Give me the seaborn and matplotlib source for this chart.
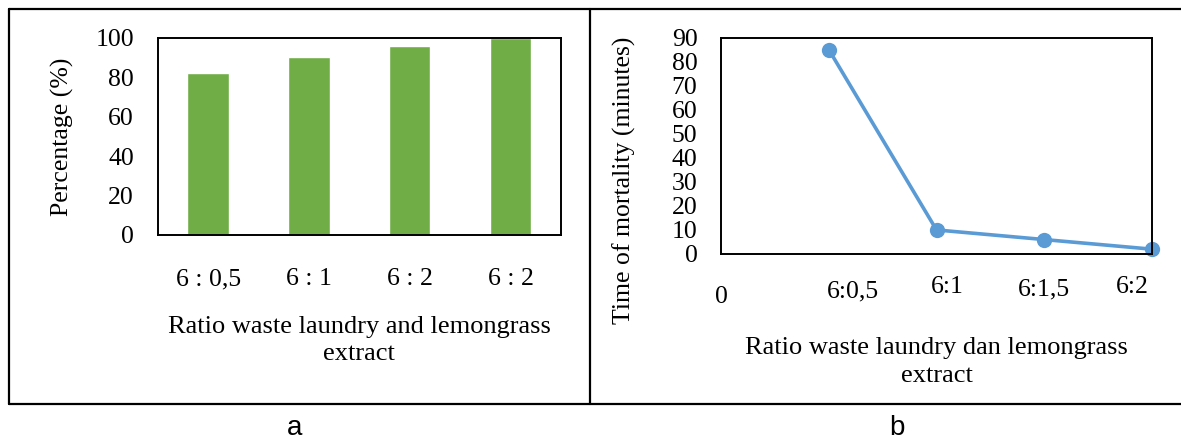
import numpy as np
import pandas as pd
import matplotlib
matplotlib.use("Agg")
import matplotlib.pyplot as plt
import matplotlib.transforms as mtransforms
from matplotlib.lines import Line2D
import seaborn as sns

# panel a: percentage per ratio
ratio_labels_a = ["6 : 0,5", "6 : 1", "6 : 2", "6 : 2"]
percentage = [82, 90.5, 96, 100]

# panel b: time of mortality per ratio (scatter-style x axis 0..2)
ratio_x_b = [0.5, 1.0, 1.5, 2.0]
mortality = [85, 10, 6, 2]
xtick_pos_b = [0, 0.5, 1.0, 1.5, 2.0]
xtick_labels_b = ["0", "6:0,5", "6:1", "6:1,5", "6:2"]

sns.set_style("white")
plt.rcParams["font.family"] = ["Liberation Serif", "DejaVu Serif"]
plt.rcParams["axes.edgecolor"] = "black"
plt.rcParams["axes.linewidth"] = 1.4
plt.rcParams["text.color"] = "black"
plt.rcParams["axes.labelcolor"] = "black"

W, H = 1181, 441
fig = plt.figure(figsize=(W / 100, H / 100), dpi=100)

def px_axes(x0, y0, x1, y1):
    return fig.add_axes([x0 / W, 1 - y1 / H, (x1 - x0) / W, (y1 - y0) / H])

fs = 18.5
fs_xlab = 19

# ---- panel a: bars
ax1 = px_axes(157.7, 38, 561, 235)
df_a = pd.DataFrame({"idx": [str(i) for i in range(len(percentage))], "pct": percentage})
sns.barplot(data=df_a, x="idx", y="pct", color="#70AD47", saturation=1,
            width=0.41, errorbar=None, ax=ax1)
ax1.set_ylim(0, 100)
ax1.set_yticks([0, 20, 40, 60, 80, 100])
ax1.set_xticks(range(len(ratio_labels_a)), ratio_labels_a)
ax1.tick_params(axis="both", length=0, labelsize=fs, colors="black")
ax1.tick_params(axis="y", pad=17)
ax1.tick_params(axis="x", pad=24)
ax1.set_ylabel("Percentage (%)", fontsize=fs)
ax1.yaxis.set_label_coords(-0.207, 0.497)
ax1.set_xlabel("Ratio waste laundry and lemongrass\nextract", fontsize=fs_xlab, linespacing=1.3)
ax1.xaxis.set_label_coords(0.5, -0.41)
for s in ax1.spines.values():
    s.set_visible(True)

# ---- panel b: line with markers
ax2 = px_axes(721, 37.5, 1152, 254)
sns.lineplot(x=ratio_x_b, y=mortality, color="#5B9BD5", linewidth=2.6,
             marker="o", markersize=11, markeredgecolor="#5B9BD5",
             markeredgewidth=0, ax=ax2, clip_on=False)
ax2.set_xlim(0, 2)
ax2.set_ylim(0, 90)
ax2.set_yticks(np.arange(0, 91, 10))
ax2.set_xticks(xtick_pos_b, xtick_labels_b)
ax2.tick_params(axis="both", length=0, labelsize=fs, colors="black")
ax2.tick_params(axis="y", pad=17)
ax2.tick_params(axis="x", pad=16)
# Excel-like uneven label placement (pixel offsets)
label_offsets = [(0, -10), (24, -4), (11, 0), (0, -2), (-20, 0)]
for lab, (dx, dy) in zip(ax2.get_xticklabels(), label_offsets):
    lab.set_transform(lab.get_transform() +
                      mtransforms.ScaledTranslation(dx / 100, dy / 100, fig.dpi_scale_trans))
ax2.set_ylabel("Time of mortality (minutes)", fontsize=fs)
ax2.yaxis.set_label_coords(-0.197, 0.342)
ax2.set_xlabel("Ratio waste laundry dan lemongrass\nextract", fontsize=fs_xlab, linespacing=1.35)
ax2.xaxis.set_label_coords(0.5, -0.385)
for s in ax2.spines.values():
    s.set_visible(True)

# ---- outer frame and panel letters
frame_kw = dict(color="black", linewidth=1.6, transform=fig.transFigure)
x_l, x_m, x_r = 9 / W, 590 / W, 1.0
y_t, y_b = 1 - 9 / H, 1 - 404 / H
fig.add_artist(Line2D([x_l, x_r], [y_t, y_t], **frame_kw))
fig.add_artist(Line2D([x_l, x_r], [y_b, y_b], **frame_kw))
fig.add_artist(Line2D([x_l, x_l], [y_t, y_b], **frame_kw))
fig.add_artist(Line2D([x_m, x_m], [y_t, y_b], **frame_kw))

fig.text(295 / W, 1 - 428 / H, "a", family="Liberation Sans", fontsize=20,
         ha="center", va="center")
fig.text(897 / W, 1 - 428 / H, "b", family="Liberation Sans", fontsize=20,
         ha="center", va="center")

fig.savefig("out.png", dpi=100, facecolor="white")
